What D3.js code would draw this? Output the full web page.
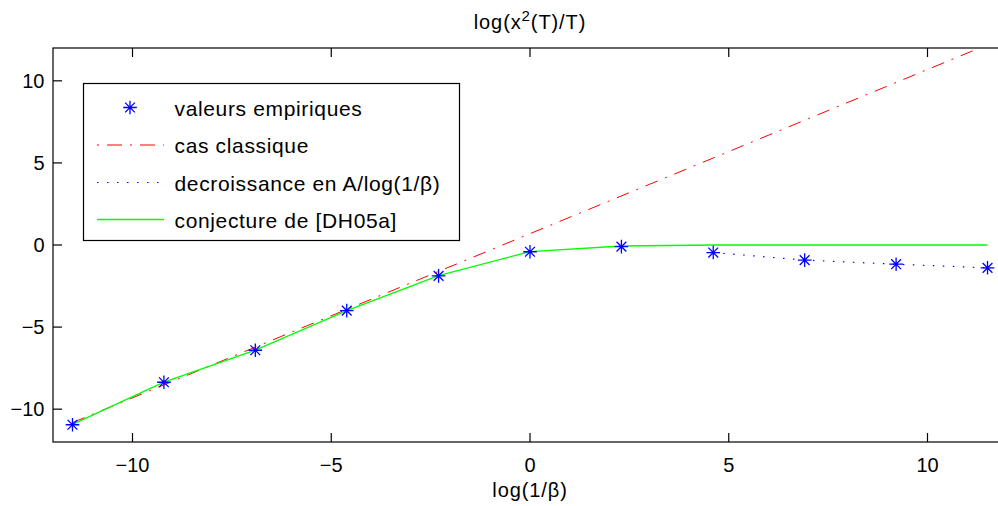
<!DOCTYPE html>
<html>
<head>
<meta charset="utf-8">
<script src="https://cdn.jsdelivr.net/npm/d3@7"></script>
<style>
  html, body { margin: 0; padding: 0; background: #fff; }
  svg { display: block; font-family: "Liberation Sans", Arial, sans-serif; }
</style>
</head>
<body>
<div id="main"></div>
<script>
// log(1/beta) for beta = 1e5 ... 1e-5
const xValues = [-11.51, -9.21, -6.91, -4.61, -2.30, 0, 2.30, 4.61, 6.91, 9.21, 11.51];
// valeurs empiriques
const empirical = [-10.95, -8.36, -6.41, -4.0, -1.88, -0.41, -0.1, -0.46, -0.92, -1.17, -1.39];
// conjecture de [DH05a]
const conjecture = [-10.93, -8.35, -6.4, -4.0, -1.87, -0.4, -0.06, 0, 0, 0, 0];
// decroissance en A/log(1/beta), drawn from x = 4.61 on
const decayX = [4.61, 6.91, 9.21, 11.51];
const decayY = [-0.46, -0.92, -1.17, -1.39];
// cas classique: log(x^2/T) = log(1/beta) + log 2
const classicX = [-11.51, 11.51];
const classicY = [-10.82, 12.2];

const ticks = [-10, -5, 0, 5, 10];
const legendLabels = ["valeurs empiriques", "cas classique", "decroissance en A/log(1/\u03b2)", "conjecture de [DH05a]"];

const W = 998, H = 506;
const plot = { left: 53, right: 1007, top: 48, bottom: 442 };
const TICK = 9;

const x = d3.scaleLinear().domain([-12, 12]).range([plot.left, plot.right]);
const y = d3.scaleLinear().domain([-12, 12]).range([plot.bottom, plot.top]);

const svg = d3.select("#main").append("svg").attr("width", W).attr("height", H);

svg.append("defs").append("clipPath").attr("id", "plot-clip")
  .append("rect")
  .attr("x", plot.left).attr("y", plot.top)
  .attr("width", plot.right - plot.left).attr("height", plot.bottom - plot.top);

const fmt = (d) => (d < 0 ? "\u2212" + Math.abs(d) : String(d));

// axes box and ticks
const axes = svg.append("g").attr("stroke", "#000").attr("stroke-width", 1.2).attr("fill", "none");
axes.append("rect")
  .attr("x", plot.left).attr("y", plot.top)
  .attr("width", plot.right - plot.left).attr("height", plot.bottom - plot.top);

ticks.forEach((t) => {
  const px = x(t), py = y(t);
  axes.append("line").attr("x1", px).attr("x2", px).attr("y1", plot.bottom).attr("y2", plot.bottom - TICK);
  axes.append("line").attr("x1", px).attr("x2", px).attr("y1", plot.top).attr("y2", plot.top + TICK);
  axes.append("line").attr("y1", py).attr("y2", py).attr("x1", plot.left).attr("x2", plot.left + TICK);
  axes.append("line").attr("y1", py).attr("y2", py).attr("x1", plot.right).attr("x2", plot.right - TICK);
});

svg.append("g").selectAll("text").data(ticks).join("text")
  .attr("x", (d) => x(d)).attr("y", 471.5)
  .attr("text-anchor", "middle").attr("font-size", 20)
  .text(fmt);

svg.append("g").selectAll("text").data(ticks).join("text")
  .attr("x", 44.5).attr("y", (d) => y(d) + 7.2)
  .attr("text-anchor", "end").attr("font-size", 20)
  .text(fmt);

// title and x label
const title = svg.append("text").attr("x", 530).attr("y", 29)
  .attr("text-anchor", "middle").attr("font-size", 20)
  .attr("letter-spacing", 0.9);
title.append("tspan").text("log(x");
title.append("tspan").attr("dy", -8).attr("font-size", 15).text("2");
title.append("tspan").attr("dy", 8).text("(T)/T)");

svg.append("text").attr("x", 530).attr("y", 497)
  .attr("text-anchor", "middle").attr("font-size", 20)
  .attr("letter-spacing", 0.9)
  .text("log(1/\u03b2)");

// data
const layer = svg.append("g").attr("clip-path", "url(#plot-clip)");
const line = d3.line().x((d) => x(d[0])).y((d) => y(d[1]));

layer.append("path")
  .datum(d3.zip(classicX, classicY))
  .attr("d", line)
  .attr("fill", "none").attr("stroke", "#ff0000").attr("stroke-width", 1)
  .attr("stroke-dasharray", "13,8,2,8");

layer.append("path")
  .datum(d3.zip(decayX, decayY))
  .attr("d", line)
  .attr("fill", "none").attr("stroke", "#0000ff").attr("stroke-width", 1.2)
  .attr("stroke-dasharray", "1.5,8.5");

layer.append("path")
  .datum(d3.zip(xValues, conjecture))
  .attr("d", line)
  .attr("fill", "none").attr("stroke", "#00ff00").attr("stroke-width", 1.3);

function star(g, cx, cy, r) {
  const d = r * 0.72;
  g.append("path")
    .attr("d", `M${cx - r},${cy}H${cx + r}M${cx},${cy - r}V${cy + r}` +
      `M${cx - d},${cy - d}L${cx + d},${cy + d}M${cx - d},${cy + d}L${cx + d},${cy - d}`)
    .attr("stroke", "#0000ff").attr("stroke-width", 1.3).attr("fill", "none");
}

const stars = layer.append("g");
d3.zip(xValues, empirical).forEach(([a, b]) => star(stars, x(a), y(b), 6.8));

// legend
const legend = svg.append("g");
legend.append("rect")
  .attr("x", 83.5).attr("y", 83.5).attr("width", 376).attr("height", 157)
  .attr("fill", "#fff").attr("stroke", "#000").attr("stroke-width", 1.2);

const rowY = [107.5, 145, 182.5, 219.5];
legend.selectAll("text.lbl").data(legendLabels).join("text")
  .attr("class", "lbl")
  .attr("x", 174.5).attr("y", (d, i) => rowY[i] + 8)
  .attr("font-size", 21)
  .attr("letter-spacing", 0.65)
  .text((d) => d);

star(legend, 130, rowY[0], 6.8);
legend.append("line").attr("x1", 97).attr("x2", 164).attr("y1", rowY[1]).attr("y2", rowY[1])
  .attr("stroke", "#ff0000").attr("stroke-dasharray", "2,8,15,8").attr("stroke-dashoffset", 0);
legend.append("line").attr("x1", 97).attr("x2", 164).attr("y1", rowY[2]).attr("y2", rowY[2])
  .attr("stroke", "#0000ff").attr("stroke-width", 1.2).attr("stroke-dasharray", "1.5,8.5");
legend.append("line").attr("x1", 97).attr("x2", 164).attr("y1", rowY[3]).attr("y2", rowY[3])
  .attr("stroke", "#00ff00").attr("stroke-width", 1.3);
</script>
</body>
</html>
